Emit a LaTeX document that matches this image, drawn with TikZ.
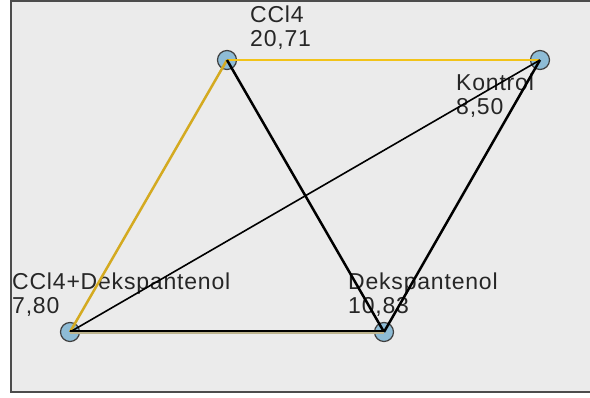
\documentclass[tikz,border=0pt]{standalone}
\usepackage{fontspec}
\setmainfont{Liberation Sans}
\newfontfamily\lblfont[LetterSpace=3.5]{Liberation Sans}
\begin{document}
\begin{tikzpicture}[x=1pt,y=-1pt,
  vtx/.style={circle,draw=black!75,line width=1.2pt,fill=vfill,minimum size=19pt,inner sep=0pt},
  lbl/.style={anchor=north west,inner sep=0pt,align=left,font=\lblfont\fontsize{23}{24}\selectfont,text=black!85},
  edge/.style={line width=2.5pt},
  thinedge/.style={line width=1.6pt}]
\definecolor{vfill}{HTML}{8EBCD6}
\definecolor{bgc}{HTML}{EBEBEB}
\definecolor{ylw}{HTML}{F2C318}
\definecolor{gold}{HTML}{D4AA20}
\definecolor{tan}{HTML}{BDB48E}
\useasboundingbox (0,0) rectangle (590,398);
\fill[white] (0,0) rectangle (590,398);
\fill[bgc] (11,0) rectangle (590,392);
\draw[black!70,line width=2pt] (590,1) -- (11,1) -- (11,392) -- (590,392);
\node[vtx] (c) at (227,60) {};
\node[vtx] (k) at (540,60) {};
\node[vtx] (cd) at (70,332) {};
\node[vtx] (d) at (384,332) {};
\node[lbl] (lc) at (250,6) {CCl4\\20,71};
\node[lbl] (lk) at (456,74) {Kontrol\\8,50};
\node[lbl] (lcd) at (12,273) {CCl4+Dekspantenol\\7,80};
\node[lbl] (ld) at (348,273) {Dekspantenol\\10,83};
\draw[ylw,edge] (c.center) -- (k.center);
\draw[gold,edge] (c.center) -- (cd.center);
\draw[edge] (c.center) -- (d.center);
\draw[edge] (k.center) -- (d.center);
\draw[thinedge] (k.center) -- (cd.center);
\draw[tan,line width=1.6pt] ([yshift=-1pt]cd.center) -- ([yshift=-1pt]d.center);
\draw[black,line width=1.6pt] ([yshift=1pt]cd.center) -- ([yshift=1pt]d.center);
\end{tikzpicture}
\end{document}
